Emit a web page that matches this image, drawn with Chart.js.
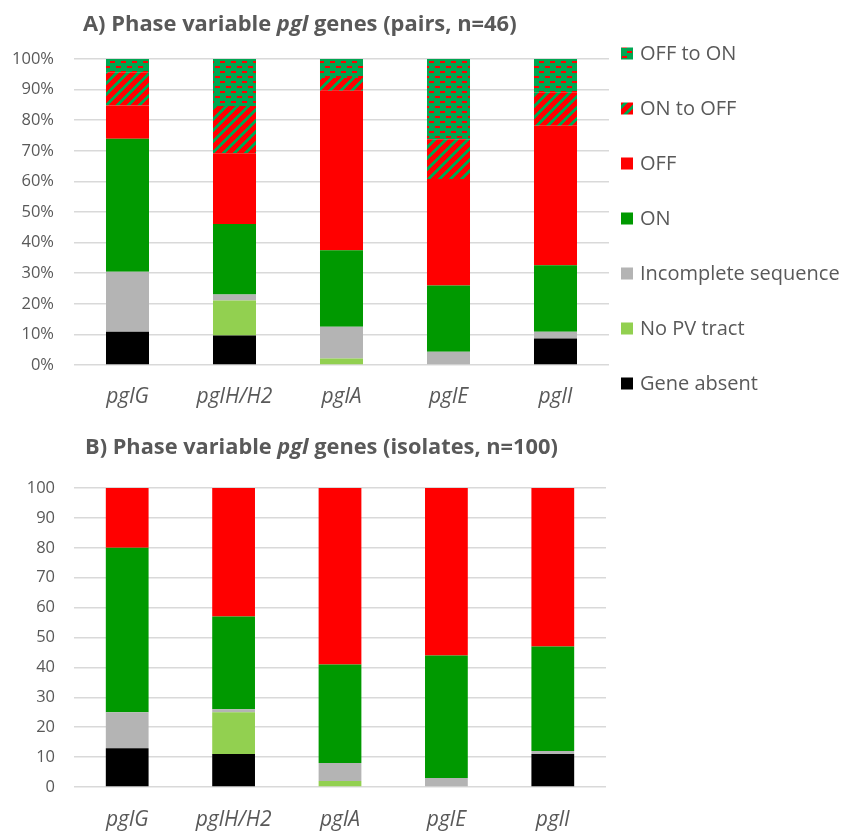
<!DOCTYPE html>
<html>
<head>
<meta charset="utf-8">
<script src="https://cdn.jsdelivr.net/npm/chart.js@4/dist/chart.umd.min.js"></script>
<style>
  html, body { margin: 0; padding: 0; background: #ffffff; }
  #wrap { position: relative; width: 844px; height: 831px; }
  canvas { position: absolute; left: 0; }
  #pairs { top: 0; }
  #isolates { top: 420px; }
</style>
</head>
<body>
<div id="wrap">
  <canvas id="pairs" width="844" height="420"></canvas>
  <canvas id="isolates" width="844" height="411"></canvas>
</div>
<script>
// Genes on the x axis
const genes = ['pglG', 'pglH/H2', 'pglA', 'pglE', 'pglI'];
// Series, bottom of the stack first
const seriesNames = ['Gene absent', 'No PV tract', 'Incomplete sequence', 'ON', 'OFF', 'ON to OFF', 'OFF to ON'];

// A) pairs: share of pairs (%)
const pairsAbsent     = [10.9,  9.6,  0.0,  0.0,  8.7];
const pairsNoPV       = [ 0.0, 11.5,  2.1,  0.0,  0.0];
const pairsIncomplete = [19.6,  1.9, 10.4,  4.3,  2.2];
const pairsOn         = [43.4, 23.1, 25.0, 21.7, 21.7];
const pairsOff        = [10.9, 23.1, 52.1, 34.8, 45.6];
const pairsOnToOff    = [10.9, 15.4,  4.2, 13.0, 10.9];
const pairsOffToOn    = [ 4.3, 15.4,  6.2, 26.2, 10.9];

// B) isolates: number of isolates
const isoAbsent     = [13, 11,  0,  0, 11];
const isoNoPV       = [ 0, 14,  2,  0,  0];
const isoIncomplete = [12,  1,  6,  3,  1];
const isoOn         = [55, 31, 33, 41, 35];
const isoOff        = [20, 43, 59, 56, 53];

// Tick values of the two value axes
const pairsTicks = [0, 10, 20, 30, 40, 50, 60, 70, 80, 90, 100];
const isoTicks   = [0, 10, 20, 30, 40, 50, 60, 70, 80, 90, 100];

const FONT = '"Open Sans"';
const TEXT = '#595959';
const GRID = '#D9D9D9';
const RED = '#FF0000';
const GREEN = '#009900';
const PGREEN = '#00A651';

// Fill patterns for the switching classes
function dashPattern() {
  const c = document.createElement('canvas');
  c.width = 11; c.height = 10;
  const g = c.getContext('2d');
  g.fillStyle = PGREEN; g.fillRect(0, 0, 11, 10);
  g.fillStyle = RED;
  g.fillRect(0, 1, 5, 2);
  g.fillRect(6, 6, 5, 2);
  return g.createPattern(c, 'repeat');
}
function diagPattern() {
  const n = 11;
  const c = document.createElement('canvas');
  c.width = n; c.height = n;
  const g = c.getContext('2d');
  g.fillStyle = RED; g.fillRect(0, 0, n, n);
  g.fillStyle = PGREEN;
  for (let y = 0; y < n; y++) {
    for (let x = 0; x < n; x++) {
      if ((x + y) % n < 4) g.fillRect(x, y, 1, 1);
    }
  }
  return g.createPattern(c, 'repeat');
}

const fills = ['#000000', '#92D050', '#B4B4B4', GREEN, RED, diagPattern(), dashPattern()];

function makeDatasets(seriesValues) {
  return seriesValues.map((values, i) => ({
    label: seriesNames[i],
    data: values,
    backgroundColor: fills[i],
    borderWidth: 0,
    categoryPercentage: 1.0,
    barPercentage: 0.402
  }));
}

// Title drawn in segments so the gene name can be italic;
// the font size is tuned so the line spans the given width
const richTitle = {
  id: 'richTitle',
  afterDraw(chart, args, opts) {
    if (!opts || !opts.parts) return;
    const ctx = chart.ctx;
    ctx.save();
    const fontFor = (p, s) => (p.italic ? 'italic ' : '') + 'bold ' + s + 'px ' + FONT;
    let total = 0;
    for (const p of opts.parts) { ctx.font = fontFor(p, opts.size); total += ctx.measureText(p.text).width; }
    const size = opts.width ? opts.size * opts.width / total : opts.size;
    ctx.fillStyle = TEXT;
    ctx.textBaseline = 'alphabetic';
    ctx.textAlign = 'left';
    let x = opts.x;
    for (const p of opts.parts) {
      ctx.font = fontFor(p, size);
      ctx.fillText(p.text, x, opts.y);
      x += ctx.measureText(p.text).width;
    }
    ctx.restore();
  }
};

// Vertical legend listing the stack from top to bottom
const sideLegend = {
  id: 'sideLegend',
  afterDraw(chart, args, opts) {
    if (!opts || !opts.show) return;
    const ctx = chart.ctx;
    ctx.save();
    ctx.font = opts.size + 'px ' + FONT;
    ctx.textBaseline = 'middle';
    ctx.textAlign = 'left';
    const sets = chart.data.datasets.slice().reverse();
    sets.forEach((ds, i) => {
      const y = opts.y + i * opts.step;
      ctx.fillStyle = ds.backgroundColor;
      ctx.fillRect(opts.x, y - opts.box / 2, opts.box, opts.box);
      ctx.fillStyle = TEXT;
      ctx.fillText(ds.label, opts.x + opts.box + 7, y + 1);
    });
    ctx.restore();
  }
};

function baseOptions(cfg) {
  return {
    responsive: false,
    animation: false,
    layout: { padding: cfg.padding },
    plugins: {
      legend: { display: false },
      tooltip: { enabled: false },
      richTitle: cfg.title,
      sideLegend: cfg.legend
    },
    scales: {
      x: {
        stacked: true,
        grid: { display: false },
        border: { display: false },
        ticks: {
          color: TEXT,
          padding: cfg.xPad,
          font: { family: FONT, size: 21, style: 'italic' }
        },
        afterFit(scale) { scale.height = cfg.xHeight; }
      },
      y: {
        stacked: true,
        min: 0,
        max: 100,
        afterBuildTicks(scale) { scale.ticks = cfg.ticks.map(v => ({ value: v })); },
        grid: { color: GRID, lineWidth: 1.5, drawTicks: false, tickLength: 0 },
        border: { display: false },
        ticks: {
          color: TEXT,
          padding: cfg.yPad,
          font: { family: FONT, size: 16.5 },
          callback: cfg.fmt
        },
        afterFit(scale) { scale.width = cfg.yWidth; }
      }
    }
  };
}

new Chart(document.getElementById('pairs'), {
  type: 'bar',
  data: {
    labels: genes,
    datasets: makeDatasets([pairsAbsent, pairsNoPV, pairsIncomplete, pairsOn, pairsOff, pairsOnToOff, pairsOffToOn])
  },
  options: baseOptions({
    padding: { top: 59, right: 235, bottom: 0, left: 0 },
    ticks: pairsTicks,
    fmt: v => v + '%',
    yWidth: 74,
    yPad: 20,
    xHeight: 55,
    xPad: 11,
    title: {
      x: 83, y: 31, size: 21, width: 434,
      parts: [
        { text: 'A) Phase variable ' },
        { text: 'pgl', italic: true },
        { text: ' genes (pairs, n=46)' }
      ]
    },
    legend: { show: true, x: 621, y: 53.5, step: 55, box: 12, size: 20 }
  }),
  plugins: [richTitle, sideLegend]
});

new Chart(document.getElementById('isolates'), {
  type: 'bar',
  data: {
    labels: genes,
    datasets: makeDatasets([isoAbsent, isoNoPV, isoIncomplete, isoOn, isoOff])
  },
  options: baseOptions({
    padding: { top: 68, right: 238, bottom: 0, left: 0 },
    ticks: isoTicks,
    fmt: v => String(v),
    yWidth: 74,
    yPad: 19,
    xHeight: 44,
    xPad: 12,
    title: {
      x: 85, y: 34, size: 21, width: 473,
      parts: [
        { text: 'B) Phase variable ' },
        { text: 'pgl', italic: true },
        { text: ' genes (isolates, n=100)' }
      ]
    },
    legend: { show: false }
  }),
  plugins: [richTitle, sideLegend]
});
</script>
</body>
</html>
